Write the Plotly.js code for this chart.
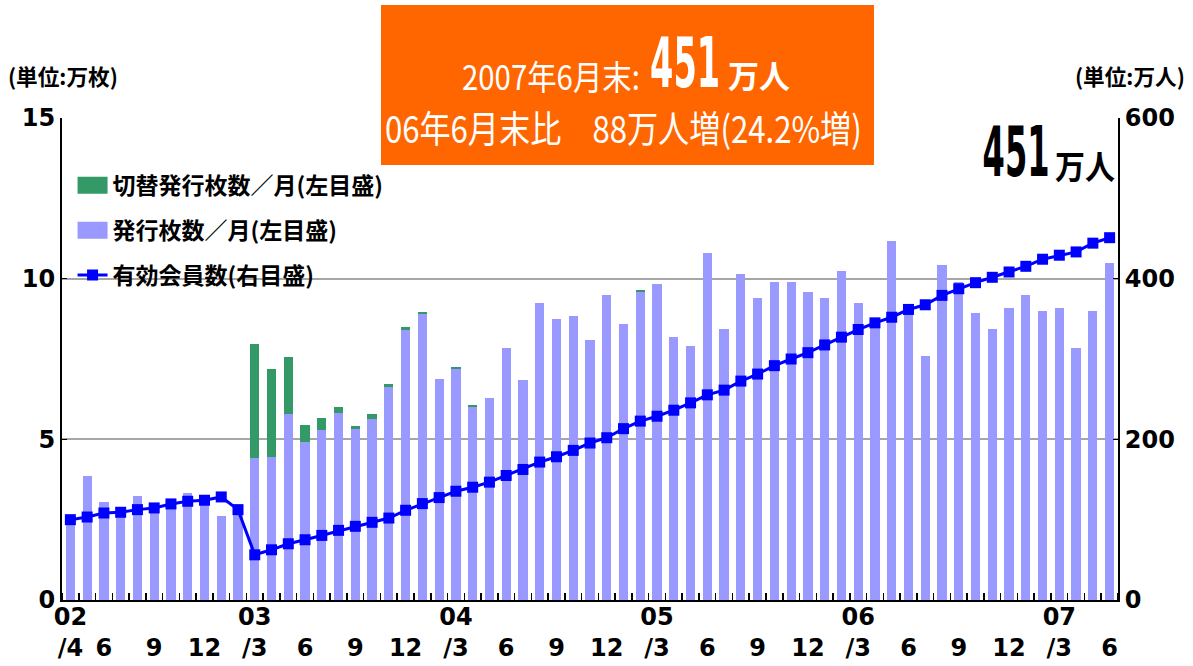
<!DOCTYPE html>
<html>
<head>
<meta charset="utf-8">
<script src="https://cdn.plot.ly/plotly-3.0.1.min.js"></script>
<style>html,body{margin:0;padding:0;background:#fff;}#chart{width:1193px;height:666px;}</style>
</head>
<body>
<div id="chart"></div>
<script>
// ---- data ----
const months = [
 "2002/4","2002/5","2002/6","2002/7","2002/8","2002/9","2002/10","2002/11","2002/12",
 "2003/1","2003/2","2003/3","2003/4","2003/5","2003/6","2003/7","2003/8","2003/9","2003/10","2003/11","2003/12",
 "2004/1","2004/2","2004/3","2004/4","2004/5","2004/6","2004/7","2004/8","2004/9","2004/10","2004/11","2004/12",
 "2005/1","2005/2","2005/3","2005/4","2005/5","2005/6","2005/7","2005/8","2005/9","2005/10","2005/11","2005/12",
 "2006/1","2006/2","2006/3","2006/4","2006/5","2006/6","2006/7","2006/8","2006/9","2006/10","2006/11","2006/12",
 "2007/1","2007/2","2007/3","2007/4","2007/5","2007/6"
];
// 発行枚数／月 (万枚)
const issued = [
 2.6, 3.85, 3.06, 2.85, 3.23, 2.8, 2.9, 3.34, 3.05,
 2.62, 2.8, 4.41, 4.45, 5.78, 4.92, 5.28, 5.81, 5.31, 5.64, 6.64, 8.41,
 8.91, 6.875, 7.19, 6.02, 6.28, 7.84, 6.84, 9.25, 8.75, 8.83, 8.09, 9.5,
 8.59, 9.6, 9.84, 8.19, 7.91, 10.81, 8.44, 10.16, 9.41, 9.9, 9.9, 9.59,
 9.41, 10.25, 9.25, 8.55, 11.16, 8.95, 7.59, 10.41, 9.9, 8.94, 8.44, 9.09,
 9.5, 9.0, 9.09, 7.84, 9.0, 10.5
];
// 切替発行枚数／月 (万枚)
const switched = [
 0, 0, 0, 0, 0, 0, 0, 0, 0,
 0, 0, 3.56, 2.74, 1.77, 0.52, 0.38, 0.19, 0.1, 0.14, 0.08, 0.09,
 0.06, 0, 0.05, 0.05, 0, 0, 0, 0, 0, 0, 0, 0,
 0, 0.05, 0, 0, 0, 0, 0, 0, 0, 0, 0, 0,
 0, 0, 0, 0, 0, 0, 0, 0, 0, 0, 0, 0,
 0, 0, 0, 0, 0, 0
];
// 有効会員数 (万人)
const members = [
 100, 103.3, 108.3, 109.2, 112.5, 114.6, 119.6, 122.9, 124.2,
 128.3, 112.5, 56.25, 62.5, 70, 75, 80.4, 86.7, 91.7, 96.7, 102, 111.7,
 120, 127.5, 135.4, 140.4, 146.7, 155, 162.5, 171.7, 178.3, 186.25, 195.4, 202,
 213.3, 222.7, 228.75, 236.25, 245.4, 255.4, 261.25, 272.5, 281.25, 291.7, 300, 307.9,
 317.5, 327.2, 336.7, 345, 352, 361.7, 367.5, 379.2, 387.5, 395, 401.7, 408.3,
 415.4, 424.2, 429.2, 433.3, 444.2, 451
];
const tickIdx    = [0, 2, 5, 8, 11, 14, 17, 20, 23, 26, 29, 32, 35, 38, 41, 44, 47, 50, 53, 56, 59, 62];
const tickYear   = ["02","","","","03","","","","04","","","","05","","","","06","","","","07",""];
const tickMonth  = ["/4","6","9","12","/3","6","9","12","/3","6","9","12","/3","6","9","12","/3","6","9","12","/3","6"];
const leftTicks  = [0, 5, 10, 15];
const rightTicks = [0, 200, 400, 600];

// ---- chart ----
const xs = months.map((m, i) => i);
const ticktext = tickIdx.map((v, i) => (tickYear[i] ? tickYear[i] : "\u00a0") + "<br>" + tickMonth[i]);

const NUM = "DejaVu Sans, sans-serif";
const JP = "Noto Sans CJK JP, sans-serif";

// pixel helpers for paper positions (plot area: x 62..1118, y 118..600)
const PX = px => (px - 62) / 1056;
const PY = py => (600 - py) / 482;

const traces = [
  {type: "bar", x: xs, y: issued, name: "発行枚数／月(左目盛)", marker: {color: "#9999FF"},
   legendrank: 2, legendgroup: "b", hoverinfo: "skip"},
  {type: "bar", x: xs, y: switched, name: "切替発行枚数／月(左目盛)", marker: {color: "#339966"},
   legendrank: 1, legendgroup: "a", hoverinfo: "skip"},
  {type: "scatter", mode: "lines+markers", x: xs, y: members, yaxis: "y2", name: "有効会員数(右目盛)",
   line: {color: "#0000FF", width: 3}, marker: {symbol: "square", size: 11, color: "#0000FF"},
   legendrank: 3, legendgroup: "c", hoverinfo: "skip"}
];

const tickFont = {family: NUM, size: 24, color: "#000", weight: "bold"};

// annotation specs: text, centre x/y in px, font, fitted width in px
const annSpecs = [
  {text: "2007年6月末:", cx: 551, cy: 75, font: {family: JP, size: 34, color: "#fff"}, w: 178},
  {text: "451", cx: 685, cy: 63, font: {family: NUM, size: 70, color: "#fff", weight: "bold"}, w: 70},
  {text: "万人", cx: 759, cy: 74, font: {family: JP, size: 32, color: "#fff", weight: "bold"}, w: 62},
  {text: "06年6月末比　88万人増(24.2%増)", cx: 623, cy: 127, font: {family: JP, size: 37, color: "#fff"}, w: 477},
  {text: "451", cx: 1016, cy: 152, font: {family: NUM, size: 70, color: "#000", weight: "bold"}, w: 67},
  {text: "万人", cx: 1085, cy: 165, font: {family: JP, size: 33, color: "#000", weight: "bold"}, w: 60},
  {text: "(単位:万枚)", cx: 63, cy: 75, font: {family: JP, size: 22, color: "#000", weight: "bold"}, w: 110},
  {text: "(単位:万人)", cx: 1130, cy: 75, font: {family: JP, size: 22, color: "#000", weight: "bold"}, w: 110}
];

const layout = {
  width: 1193, height: 666,
  margin: {l: 62, r: 75, t: 118, b: 66},
  paper_bgcolor: "#fff", plot_bgcolor: "#fff",
  barmode: "stack", bargap: 0.45,
  showlegend: true,
  legend: {x: 0.01, y: 0.905, xanchor: "left", yanchor: "top", bgcolor: "rgba(0,0,0,0)",
           font: {family: JP, size: 23, color: "#000", weight: "bold"},
           traceorder: "grouped", tracegroupgap: 12, itemwidth: 30},
  xaxis: {range: [-0.5, 62.5], tickmode: "array", tickvals: tickIdx, ticktext: ticktext,
          ticks: "", showline: true, linecolor: "#000", linewidth: 2, showgrid: false, zeroline: false,
          tickfont: tickFont, ticklabelstandoff: -6,
          minor: {tickmode: "linear", tick0: 0.5, dtick: 1, ticks: "inside", ticklen: 7, tickwidth: 1.5, tickcolor: "#000", showgrid: false}},
  yaxis: {range: [0, 15], tickmode: "array", tickvals: leftTicks, showgrid: true, gridcolor: "#a6a6a6", gridwidth: 2,
          showline: true, linecolor: "#000", linewidth: 2, ticks: "inside", ticklen: 5, tickcolor: "#000",
          zeroline: false, tickfont: tickFont},
  yaxis2: {overlaying: "y", side: "right", range: [0, 600], tickmode: "array", tickvals: rightTicks,
           showgrid: false, showline: true, linecolor: "#000", linewidth: 2, ticks: "inside", ticklen: 5, tickcolor: "#000",
           zeroline: false, tickfont: tickFont},
  shapes: [
    {type: "rect", xref: "paper", yref: "paper", x0: PX(381), x1: PX(874), y0: PY(165), y1: PY(5),
     fillcolor: "#FF6600", line: {width: 0}, layer: "above"}
  ],
  annotations: annSpecs.map(a => ({
    xref: "paper", yref: "paper", x: PX(a.cx), y: PY(a.cy), xanchor: "center", yanchor: "middle",
    showarrow: false, text: a.text, font: a.font
  }))
};

Plotly.newPlot("chart", traces, layout, {displayModeBar: false, staticPlot: true}).then(gd => {
  // condense annotation texts horizontally to match the narrow lettering
  gd.querySelectorAll(".annotation-text").forEach((t, i) => {
    const spec = annSpecs[i];
    if (!spec) return;
    const w = t.getBBox().width;
    if (w > 0) {
      t.style.transformBox = "fill-box";
      t.style.transformOrigin = "center";
      t.style.transform = "scaleX(" + (spec.w / w) + ")";
    }
  });
  // wider rectangular legend swatches for the bar series
  gd.querySelectorAll(".legend .traces").forEach(tr => {
    const label = tr.querySelector(".legendtext");
    if (label && label.textContent.indexOf("枚数") >= 0) {
      tr.querySelectorAll(".legendpoints path").forEach(p => p.setAttribute("d", "M15,8.5H-15V-8.5H15Z"));
    }
  });
});
</script>
</body>
</html>
